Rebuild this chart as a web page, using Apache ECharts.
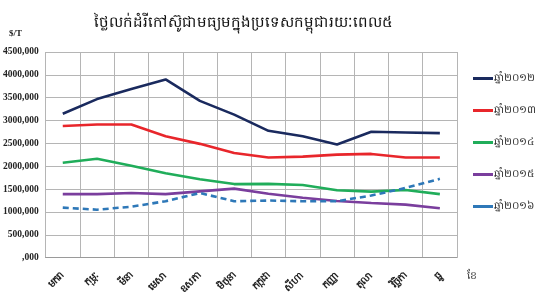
<!DOCTYPE html>
<html>
<head>
<meta charset="utf-8">
<script src="https://cdn.jsdelivr.net/npm/echarts@6/dist/echarts.min.js"></script>
<style>
  html, body { margin: 0; padding: 0; background: #fff; }
  #chart { width: 540px; height: 297px; }
</style>
</head>
<body>
<div id="chart"></div>
<script>
// ខែ (months)
const months = ['មករា', 'កុម្ភៈ', 'មីនា', 'មេសា', 'ឧសភា', 'មិថុនា', 'កក្កដា', 'សីហា', 'កញ្ញា', 'តុលា', 'វិច្ឆិកា', 'ធ្នូ']
// តម្លៃ $/T
const y2012 = [3150, 3470, 3690, 3900, 3430, 3130, 2775, 2655, 2475, 2755, 2740, 2725]
const y2013 = [2880, 2915, 2915, 2655, 2490, 2290, 2190, 2210, 2255, 2270, 2190, 2190]
const y2014 = [2075, 2165, 2010, 1845, 1715, 1610, 1615, 1590, 1475, 1445, 1480, 1390]
const y2015 = [1390, 1390, 1415, 1390, 1450, 1510, 1400, 1310, 1240, 1195, 1160, 1080]
const y2016 = [1095, 1050, 1115, 1235, 1415, 1235, 1250, 1235, 1235, 1360, 1525, 1725]
const seriesNames = ['ឆ្នាំ២០១២', 'ឆ្នាំ២០១៣', 'ឆ្នាំ២០១៤', 'ឆ្នាំ២០១៥', 'ឆ្នាំ២០១៦']

let myChart = echarts.init(document.getElementById('chart'))
const mkLine = (name, data, color, dashed) => ({
  name: name,
  type: 'line',
  data: data,
  symbol: 'none',
  lineStyle: { color: color, width: 2.6, type: dashed ? [6, 4] : 'solid' },
  itemStyle: { color: color }
})

myChart.setOption({
  animation: false,
  title: {
    text: 'ថ្លៃលក់ដំរីកៅស៊ូជាមធ្យមក្នុងប្រទេសកម្ពុជារយៈពេល៥',
    left: 238,
    textAlign: 'center',
    top: 10,
    textStyle: { fontSize: 15, fontWeight: 'normal', color: '#111' }
  },
  legend: {
    orient: 'vertical',
    left: 468,
    top: 68,
    itemGap: 21,
    itemWidth: 20,
    itemHeight: 3,
    icon: 'rect',
    textStyle: { fontSize: 10.5, color: '#333', padding: [0, 0, 0, -4] },
    data: seriesNames
  },
  grid: { left: 43, right: 83, top: 52, bottom: 36 },
  graphic: [
    { type: 'text', left: 9, top: 29, style: { text: '$/T', font: 'bold 9px "Liberation Serif"', fill: '#222' } },
    { type: 'text', left: 467, top: 270, style: { text: 'ខែ', font: '11px sans-serif', fill: '#444' } }
  ],
  xAxis: {
    type: 'category',
    data: months,
    boundaryGap: true,
    axisLine: { lineStyle: { color: '#9a9a9a', width: 1 } },
    axisTick: { show: false },
    splitLine: { show: true, lineStyle: { color: '#b5b5b5', width: 1 } },
    axisLabel: { rotate: 45, margin: 16, fontSize: 10, fontWeight: 'bold', color: '#222' }
  },
  yAxis: {
    type: 'value',
    min: 0,
    max: 4500,
    interval: 500,
    axisLine: { show: false },
    axisTick: { show: false },
    splitLine: { lineStyle: { color: '#b5b5b5', width: 1 } },
    axisLabel: {
      margin: 7,
      fontSize: 9.5,
      fontWeight: 'bold',
      fontFamily: 'Liberation Serif',
      color: '#222',
      formatter: v => (v === 0 ? '' : v) + ',000'
    }
  },
  series: [
    mkLine(seriesNames[0], y2012, '#1a2a5e', false),
    mkLine(seriesNames[1], y2013, '#e8262b', false),
    mkLine(seriesNames[2], y2014, '#20ad5a', false),
    mkLine(seriesNames[3], y2015, '#7a3e9d', false),
    mkLine(seriesNames[4], y2016, '#2e78b8', true)
  ]
})
</script>
</body>
</html>
